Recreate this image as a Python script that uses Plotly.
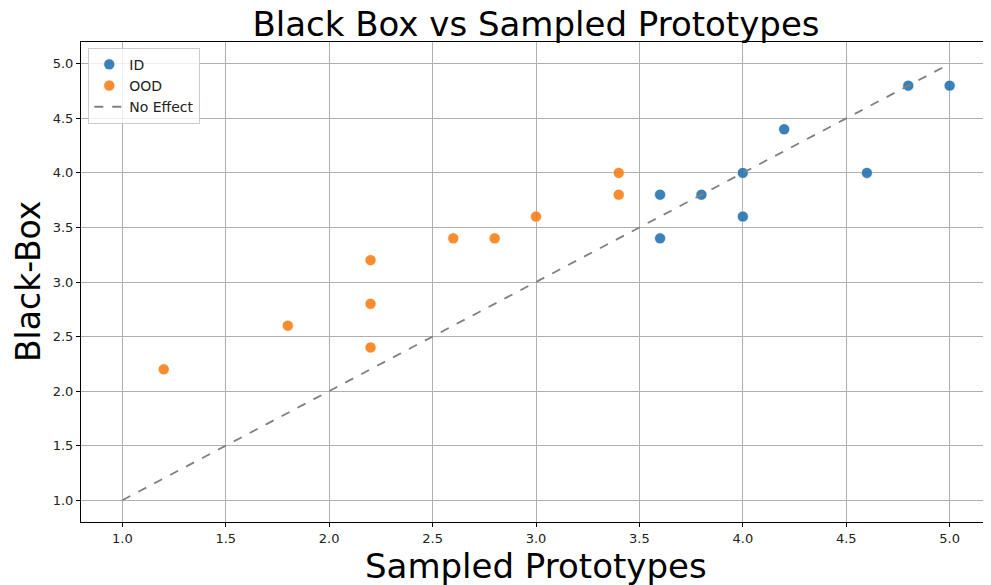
import plotly.graph_objects as go

id_x = [3.6, 3.6, 3.8, 4.0, 4.0, 4.2, 4.6, 4.8, 5.0]
id_y = [3.8, 3.4, 3.8, 4.0, 3.6, 4.4, 4.0, 4.8, 4.8]
ood_x = [1.2, 1.8, 2.2, 2.2, 2.2, 2.6, 2.8, 3.0, 3.4, 3.4]
ood_y = [2.2, 2.6, 3.2, 2.8, 2.4, 3.4, 3.4, 3.6, 4.0, 3.8]
line_x = [1.0, 5.0]
line_y = [1.0, 5.0]
ticks = [1.0, 1.5, 2.0, 2.5, 3.0, 3.5, 4.0, 4.5, 5.0]

font = "DejaVu Sans"
fig = go.Figure()
fig.add_trace(go.Scatter(x=id_x, y=id_y, mode="markers", name="ID",
                         marker=dict(color="#1f6fb0", size=11, opacity=0.88,
                                     line=dict(color="white", width=0.6))))
fig.add_trace(go.Scatter(x=ood_x, y=ood_y, mode="markers", name="OOD",
                         marker=dict(color="#f9780a", size=11, opacity=0.85,
                                     line=dict(color="white", width=0.6))))
fig.add_trace(go.Scatter(x=line_x, y=line_y, mode="lines", name="No Effect",
                         line=dict(color="gray", width=1.8, dash="dash")))

axis_common = dict(showgrid=True, gridcolor="#b0b0b0", gridwidth=1,
                   showline=True, linecolor="black", linewidth=1, mirror=True,
                   ticks="outside", ticklen=4, tickcolor="black",
                   tickfont=dict(family=font, size=13, color="#222222"),
                   zeroline=False, tickvals=ticks, automargin=False,
                   ticktext=[f"{t:.1f}" for t in ticks])
fig.update_layout(
    width=991, height=585,
    margin=dict(l=73, r=8, t=34, b=71),
    paper_bgcolor="white", plot_bgcolor="white",
    title=dict(text="Black Box vs Sampled Prototypes", x=0.5, xref="paper", xanchor="center",
               y=0.973, yanchor="middle",
               font=dict(family=font, size=34, color="black")),
    xaxis=dict(range=[0.8, 5.2], **axis_common),
    yaxis=dict(range=[0.8, 5.2], **axis_common),
    legend=dict(x=0.008, y=0.988, xanchor="left", yanchor="top",
                bgcolor="rgba(255,255,255,0.8)", bordercolor="#cccccc", borderwidth=1,
                font=dict(family=font, size=14, color="#222222")),
    showlegend=True,
    annotations=[
        dict(text="Sampled Prototypes", xref="paper", yref="paper", x=0.5, y=-0.0917,
             xanchor="center", yanchor="middle", showarrow=False,
             font=dict(family=font, size=34, color="black")),
        dict(text="Black-Box", xref="paper", yref="paper", x=-0.0582, y=0.5,
             xanchor="center", yanchor="middle", showarrow=False, textangle=-90,
             font=dict(family=font, size=33, color="black")),
    ],
)
fig.write_html("out.html")
